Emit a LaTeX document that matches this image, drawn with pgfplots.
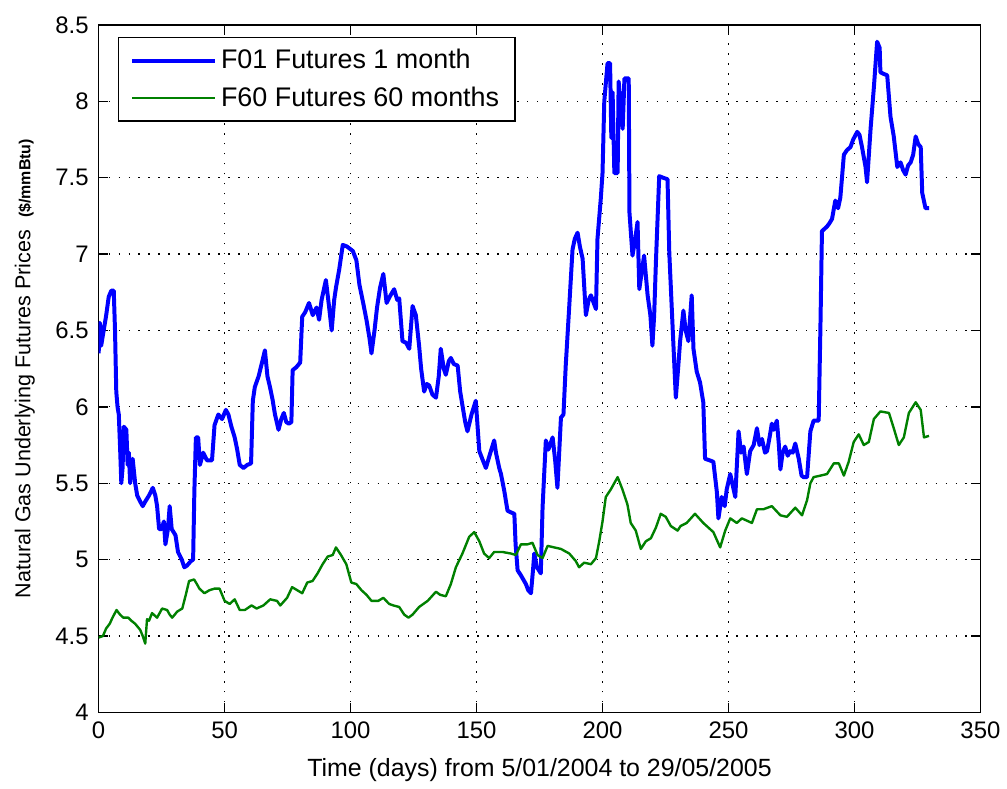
\documentclass[border=0pt]{standalone}
\usepackage{pgfplots}
\pgfplotsset{compat=1.18}
\usepackage{fontspec}
\setmainfont{Liberation Sans}
\definecolor{mblue}{RGB}{0,0,255}
\definecolor{mgreen}{RGB}{0,128,0}
\begin{document}
\begin{tikzpicture}
\begin{axis}[
  name=ax,
  scale only axis=true,
  width=442.5pt, height=345pt,
  xmin=0, xmax=350, ymin=4, ymax=8.5,
  xtick={0,50,...,350},
  ytick={4,4.5,...,8.5},
  yticklabels={4,4.5,5,5.5,6,6.5,7,7.5,8,8.5},
  /pgf/number format/assume math mode=true,
  tick label style={font=\fontsize{12}{14}\selectfont},
  xlabel={Time (days) from 5/01/2004 to 29/05/2005},
  ylabel={Natural Gas Underlying Futures Prices\ \ {\fontsize{8}{10}\selectfont\textbf{(\$/mmBtu)}}},
  xlabel style={at={(axis description cs:0.5,-0.084)}, anchor=center, font=\fontsize{12.5}{14}\selectfont},
  ylabel style={at={(axis description cs:-0.0838,0.5)}, anchor=center, font=\fontsize{10.8}{13}\selectfont},
  grid=major,
  grid style={black, line width=0.6pt, dash pattern=on 0.7pt off 4.3pt},
  tick align=inside,
  major tick length=4.5pt,
  tick style={black, line width=0.7pt},
  axis line style={black, line width=0.8pt},
  yticklabel style={xshift=-1.5pt},
  xticklabel style={yshift=-1pt},
  legend style={at={(0.0215,0.983)}, anchor=north west, draw=black, line width=0.8pt,
    font=\fontsize{13.5}{16}\selectfont, inner xsep=6pt, inner ysep=4pt, row sep=3.5pt,
    nodes={inner sep=2pt}},
  legend cell align=left,
  legend image code/.code={\draw[#1] (0pt,0pt) -- (41.5pt,0pt);},
]
\addplot[mblue, line width=2pt, line join=round] coordinates {
(0,6.35)(0.5,6.55)(1,6.4)(2,6.5)(3,6.6)(4,6.72)(5,6.76)(6,6.76)(6.5,6.5)(7,6.1)(7.5,6.0)(8,5.95)(8.5,5.74)(9,5.5)(9.5,5.6)(10,5.87)(11,5.85)(11.5,5.62)(12,5.7)(12.5,5.5)(13.5,5.66)(14.5,5.5)(15.3,5.42)(16.5,5.38)(17.5,5.35)(18.5,5.38)(20,5.42)(21.5,5.47)(22.5,5.42)(23.2,5.35)(24,5.2)(25,5.2)(25.9,5.25)(26.5,5.1)(27.5,5.2)(28.2,5.35)(29,5.2)(30.5,5.16)(31.5,5.05)(33,5.0)(34,4.95)(35,4.96)(36.6,4.99)(37.5,5.0)(38,5.45)(38.6,5.8)(39.5,5.8)(40.2,5.62)(41.5,5.7)(43,5.65)(45,5.65)(46,5.88)(47.5,5.95)(49,5.92)(50.5,5.98)(51.5,5.95)(52.7,5.87)(54,5.8)(55,5.72)(56,5.62)(57.5,5.6)(59,5.62)(60.5,5.63)(61.2,6.04)(62,6.13)(63.5,6.2)(65,6.3)(66,6.37)(67,6.2)(68,6.13)(69,6.05)(70,5.95)(71.4,5.85)(72.5,5.92)(73.5,5.96)(74.5,5.9)(75.5,5.89)(76.5,5.9)(77,6.24)(78.5,6.26)(80,6.29)(80.8,6.59)(82,6.62)(83.5,6.68)(85,6.6)(86.5,6.65)(87.5,6.57)(88.5,6.7)(90.2,6.83)(91.5,6.65)(92.5,6.5)(93.5,6.7)(94.2,6.78)(95.5,6.9)(96.9,7.06)(98.5,7.05)(100.9,7.02)(102.3,6.96)(103.5,6.8)(105,6.68)(106.3,6.57)(107.5,6.45)(108.3,6.35)(109.5,6.5)(110.5,6.65)(111.7,6.78)(113,6.87)(114.3,6.68)(115.5,6.72)(117.3,6.77)(118.5,6.7)(119.3,6.71)(120.6,6.43)(122,6.42)(123.3,6.38)(124.6,6.66)(125.9,6.6)(127.2,6.4)(128,6.25)(129.2,6.1)(130.2,6.15)(131.2,6.14)(132.5,6.08)(133.9,6.06)(135,6.2)(135.8,6.38)(137,6.25)(137.8,6.21)(139,6.3)(139.8,6.32)(141,6.28)(142.5,6.27)(143.5,6.1)(144.4,6.01)(145.5,5.9)(146.4,5.84)(148,5.95)(149.7,6.04)(150.5,5.85)(151.1,5.71)(152.5,5.65)(153.7,5.6)(155.5,5.7)(157,5.78)(157.7,5.7)(159,5.6)(159.7,5.56)(161,5.45)(162.3,5.32)(163.5,5.31)(165,5.3)(165.5,5.1)(166.3,4.93)(167.5,4.9)(169.6,4.84)(170.5,4.8)(171.6,4.78)(172.5,4.95)(172.9,5.04)(174,4.95)(175.5,4.91)(176.2,5.34)(177.5,5.78)(178.5,5.72)(180.2,5.8)(181.2,5.65)(182.1,5.47)(183.5,5.93)(184.5,5.95)(185.4,6.27)(186.8,6.66)(188.1,7.03)(189,7.1)(190.1,7.14)(191,7.05)(192.1,6.97)(193.4,6.6)(194.5,6.7)(195.4,6.73)(196.5,6.68)(197.4,6.64)(198,7.1)(199.3,7.36)(200,7.53)(200.7,8.0)(202,8.25)(203,8.25)(203.5,7.76)(204,8.06)(204.7,7.53)(206,7.53)(206.4,8.13)(208,7.82)(208.7,8.15)(210.4,8.15)(210.7,7.27)(211.9,6.99)(213,7.1)(213.9,7.21)(214.6,6.77)(216.5,6.99)(217.9,6.73)(219,6.6)(219.8,6.4)(220.5,6.6)(221.2,6.95)(222.5,7.51)(224,7.5)(225.8,7.49)(226.5,7.01)(227.8,6.53)(229.1,6.06)(230,6.25)(230.8,6.43)(232.1,6.63)(233,6.5)(234.1,6.43)(235.4,6.73)(236.1,6.38)(237.4,6.23)(238.7,6.16)(240,6.03)(240.7,5.66)(242.5,5.65)(244,5.64)(245.4,5.44)(246,5.27)(247.3,5.41)(248.5,5.35)(249.3,5.46)(250.7,5.56)(251.5,5.5)(252.7,5.41)(254,5.84)(255,5.7)(256,5.74)(257.3,5.56)(258.6,5.71)(260,5.75)(261.3,5.86)(262.3,5.75)(263.3,5.79)(264.5,5.7)(265.3,5.71)(266.3,5.8)(267.2,5.89)(268,5.85)(269.2,5.91)(270,5.75)(270.6,5.59)(271.5,5.7)(272.5,5.74)(273.5,5.68)(274.5,5.71)(275.5,5.7)(276.5,5.76)(277.9,5.66)(279,5.55)(279.8,5.54)(281.2,5.54)(282.5,5.84)(283.8,5.91)(285.8,5.91)(286.5,6.53)(287.1,7.15)(289.1,7.18)(290,7.2)(291.1,7.23)(292.4,7.35)(293.5,7.3)(294.4,7.37)(295.8,7.65)(297,7.68)(298.4,7.70)(299.5,7.75)(301.1,7.80)(302,7.78)(303,7.70)(304.4,7.57)(305,7.47)(306.4,7.82)(307.7,8.09)(309,8.39)(310,8.35)(310.3,8.19)(311.5,8.18)(313,8.17)(314.3,7.90)(315.6,7.77)(317,7.57)(318.3,7.60)(319.3,7.55)(320.3,7.52)(321.3,7.58)(322.3,7.60)(323.3,7.65)(324.3,7.77)(325.3,7.72)(326.3,7.70)(326.9,7.40)(328.2,7.30)(329.6,7.30)
};
\addlegendentry{F01 Futures 1 month}
\addplot[mgreen, line width=1.2pt, line join=round] coordinates {
(0,4.49)(1.7,4.5)(3,4.55)(4.4,4.58)(5.5,4.62)(7.1,4.67)(8.5,4.64)(9.8,4.62)(11.8,4.62)(13,4.6)(14.5,4.58)(16.5,4.54)(17.5,4.5)(18.5,4.45)(19.2,4.61)(20,4.6)(21.2,4.65)(23.2,4.62)(25.2,4.68)(27.2,4.67)(28.2,4.64)(29.2,4.62)(31.2,4.66)(33.2,4.68)(34.6,4.77)(35.9,4.86)(37.9,4.87)(39,4.84)(40,4.81)(42,4.78)(44,4.8)(46,4.81)(48,4.81)(50,4.73)(52,4.71)(54,4.74)(56,4.67)(58,4.67)(60.7,4.7)(62.7,4.68)(65.4,4.7)(68.1,4.74)(70.8,4.73)(72.1,4.7)(74.8,4.75)(76.8,4.82)(78.8,4.8)(80.8,4.78)(82.8,4.85)(84.9,4.86)(86.9,4.91)(88.9,4.97)(90.9,5.02)(92.9,5.03)(94.2,5.08)(96.2,5.03)(98.3,4.97)(100.3,4.85)(102.3,4.84)(104.3,4.8)(106.3,4.77)(108.3,4.73)(111,4.73)(113,4.75)(115.3,4.71)(117,4.70)(119.3,4.69)(121.3,4.64)(123,4.62)(124.6,4.64)(127.2,4.69)(130.6,4.73)(133.9,4.79)(135.5,4.77)(137.8,4.76)(139.8,4.84)(141.8,4.95)(144.4,5.04)(147.1,5.15)(149.1,5.18)(151.1,5.12)(153,5.04)(155,5.01)(157,5.05)(160.3,5.05)(163.6,5.04)(165.6,5.03)(167.6,5.1)(170.2,5.1)(172.2,5.11)(174.2,5.03)(176.2,5.01)(178.2,5.09)(180.8,5.08)(183.5,5.07)(186.8,5.04)(189.4,4.99)(190.7,4.95)(192.7,4.98)(195.4,4.97)(197.4,5.01)(198.7,5.12)(200,5.25)(201.3,5.41)(203.3,5.46)(206,5.54)(207.9,5.46)(209.9,5.36)(211.2,5.24)(213.2,5.19)(215.2,5.07)(217.2,5.12)(219.2,5.14)(221.2,5.21)(223.1,5.3)(225.1,5.28)(227.1,5.22)(229.8,5.19)(231,5.22)(233.4,5.24)(236.7,5.30)(240,5.24)(244,5.18)(246.7,5.08)(248.7,5.19)(250.7,5.27)(253.3,5.24)(255.3,5.27)(259.3,5.24)(261.3,5.33)(263.9,5.33)(267.2,5.35)(270.6,5.29)(273.2,5.28)(276.5,5.34)(279.2,5.29)(281.2,5.39)(282.5,5.50)(283.8,5.54)(286.5,5.55)(289.1,5.56)(291.8,5.63)(293.8,5.63)(295.8,5.55)(297.7,5.64)(299.7,5.77)(301.7,5.82)(303.7,5.75)(305.7,5.77)(307.7,5.92)(310.3,5.97)(313.7,5.96)(315.6,5.86)(317.6,5.75)(319.6,5.80)(321.6,5.96)(324.3,6.03)(326.3,5.98)(327.6,5.80)(329.6,5.81)
};
\addlegendentry{F60 Futures 60 months}
\end{axis}
\path (ax.south west) ++(-49.5pt,-38pt);
\path (ax.north east) ++(11.5pt,12.5pt);
\end{tikzpicture}
\end{document}
